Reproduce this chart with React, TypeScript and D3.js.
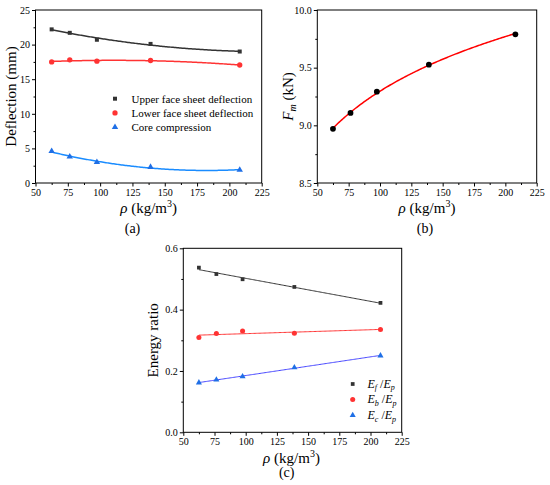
import React, { useEffect, useRef } from 'react';
import * as d3 from 'd3';

// ---------- data ----------
const density = [62.5, 76.5, 97.5, 139, 208];
const upperDeflection = [22.2, 21.7, 20.7, 20.1, 19.0];
const lowerDeflection = [17.5, 17.8, 17.6, 17.7, 17.05];
const coreCompression = [4.6, 3.8, 3.0, 2.3, 1.9];
const peakForce = [8.97, 9.107, 9.292, 9.526, 9.789];
const efRatio = [0.537, 0.516, 0.499, 0.474, 0.422];
const ebRatio = [0.309, 0.322, 0.33, 0.323, 0.335];
const ecRatio = [0.162, 0.171, 0.182, 0.211, 0.25];

const xTicks = [50, 75, 100, 125, 150, 175, 200, 225];
const yTicksA = [0, 5, 10, 15, 20, 25];
const yTicksB = [8.5, 9.0, 9.5, 10.0];
const yTicksC = [0, 0.2, 0.4, 0.6];
const legendA = ['Upper face sheet deflection', 'Lower face sheet deflection', 'Core compression'];
const legendC = [['E', 'f', 'E', 'p'], ['E', 'b', 'E', 'p'], ['E', 'c', 'E', 'p']];

const FONT = 'Liberation Serif, DejaVu Serif, serif';

// least squares polynomial fit
function polyfit(xs: number[], ys: number[], deg: number) {
  const n = deg + 1;
  const A: number[][] = Array.from({ length: n }, () => new Array(n + 1).fill(0));
  for (let r = 0; r < n; r++) {
    for (let c = 0; c < n; c++) {
      A[r][c] = d3.sum(xs, (x) => Math.pow(x, r + c));
    }
    A[r][n] = d3.sum(xs, (x, i) => ys[i] * Math.pow(x, r));
  }
  for (let i = 0; i < n; i++) {
    let p = i;
    for (let k = i + 1; k < n; k++) if (Math.abs(A[k][i]) > Math.abs(A[p][i])) p = k;
    [A[i], A[p]] = [A[p], A[i]];
    for (let k = i + 1; k < n; k++) {
      const f = A[k][i] / A[i][i];
      for (let c = i; c <= n; c++) A[k][c] -= f * A[i][c];
    }
  }
  const coef = new Array(n).fill(0);
  for (let i = n - 1; i >= 0; i--) {
    let s = A[i][n];
    for (let c = i + 1; c < n; c++) s -= A[i][c] * coef[c];
    coef[i] = s / A[i][i];
  }
  return (x: number) => coef.reduce((acc, c, i) => acc + c * Math.pow(x, i), 0);
}

function logfit(xs: number[], ys: number[]) {
  const f = polyfit(xs.map(Math.log), ys, 1);
  return (x: number) => f(Math.log(x));
}

type Panel = {
  left: number; right: number; top: number; bottom: number;
  yDomain: [number, number]; yTicks: number[]; yMinor: number[]; yFmt: (v: number) => string;
};

function drawFrame(g: any, p: Panel) {
  const x = d3.scaleLinear().domain([50, 225]).range([p.left, p.right]);
  const y = d3.scaleLinear().domain(p.yDomain).range([p.bottom, p.top]);
  const xMinor = xTicks.slice(0, -1).map((t) => t + 12.5);

  g.append('g').attr('transform', `translate(0,${p.bottom})`)
    .call(d3.axisBottom(x).tickValues(xTicks).tickSizeInner(3.5).tickSizeOuter(0).tickPadding(2.5).tickFormat(d3.format('d')));
  g.append('g').attr('transform', `translate(0,${p.bottom})`)
    .call(d3.axisBottom(x).tickValues(xMinor).tickSizeInner(2).tickSizeOuter(0).tickFormat(() => ''));
  g.append('g').attr('transform', `translate(${p.left},0)`)
    .call(d3.axisLeft(y).tickValues(p.yTicks).tickSizeInner(3.5).tickSizeOuter(0).tickPadding(2).tickFormat(p.yFmt as any));
  g.append('g').attr('transform', `translate(${p.left},0)`)
    .call(d3.axisLeft(y).tickValues(p.yMinor).tickSizeInner(2).tickSizeOuter(0).tickFormat(() => ''));
  g.selectAll('.domain').remove();
  g.selectAll('g').attr('font-family', FONT);
  g.selectAll('.tick line').attr('stroke', '#000').attr('stroke-width', 1);
  g.selectAll('.tick text').style('font-family', FONT).attr('font-size', 10).attr('fill', '#000');
  g.append('rect').attr('x', p.left).attr('y', p.top).attr('width', p.right - p.left)
    .attr('height', p.bottom - p.top).attr('fill', 'none').attr('stroke', '#000').attr('stroke-width', 1);
  return { x, y };
}

function txt(g: any) {
  return g.append('text').style('font-family', FONT).attr('fill', '#000');
}

function xTitle(g: any, cx: number, by: number) {
  const t = txt(g).attr('x', cx).attr('y', by).attr('text-anchor', 'middle').attr('font-size', 15);
  t.append('tspan').attr('font-style', 'italic').text('ρ');
  t.append('tspan').text(' (kg/m');
  t.append('tspan').attr('font-size', 10).attr('dy', -6).text('3');
  t.append('tspan').attr('dy', 6).text(')');
}

function fitLine(g: any, x: any, y: any, f: (v: number) => number, color: string, w: number) {
  const pts = d3.range(density[0], density[density.length - 1] + 0.01, 1).map((v) => [v, f(v)]);
  g.append('path').attr('d', d3.line().x((d: any) => x(d[0])).y((d: any) => y(d[1]))(pts as any))
    .attr('fill', 'none').attr('stroke', color).attr('stroke-width', w);
}

function markers(g: any, x: any, y: any, vals: number[], type: any, size: number, color: string) {
  g.selectAll(null).data(vals).enter().append('path')
    .attr('d', d3.symbol().type(type).size(size)())
    .attr('transform', (d: number, i: number) => `translate(${x(density[i])},${y(d)})`)
    .attr('fill', color);
}

export default function App() {
  const ref = useRef<SVGSVGElement>(null);
  useEffect(() => {
    const svg = d3.select(ref.current);
    svg.selectAll('*').remove();

    const black = '#333333';
    const red = '#ff3333';

    // ---------- panel (a) ----------
    const ga = svg.append('g');
    const pa: Panel = { left: 35.5, right: 261.7, top: 10, bottom: 183, yDomain: [0, 25], yTicks: yTicksA,
      yMinor: [2.5, 7.5, 12.5, 17.5, 22.5], yFmt: d3.format('d') };
    const A = drawFrame(ga, pa);
    fitLine(ga, A.x, A.y, polyfit(density, upperDeflection, 2), black, 1.5);
    fitLine(ga, A.x, A.y, polyfit(density, lowerDeflection, 2), red, 1.5);
    fitLine(ga, A.x, A.y, polyfit(density, coreCompression, 2), '#1a8cff', 1.5);
    markers(ga, A.x, A.y, upperDeflection, d3.symbolSquare, 16, black);
    markers(ga, A.x, A.y, lowerDeflection, d3.symbolCircle, 22, red);
    markers(ga, A.x, A.y, coreCompression, d3.symbolTriangle, 18, '#1f6fe6');
    const legTypes = [d3.symbolSquare, d3.symbolCircle, d3.symbolTriangle];
    const legSizes = [16, 22, 18];
    const legColors = [black, red, '#1f6fe6'];
    legendA.forEach((label, i) => {
      const yy = 98.7 + i * 14.2;
      ga.append('path').attr('d', d3.symbol().type(legTypes[i]).size(legSizes[i])())
        .attr('transform', `translate(115,${yy})`).attr('fill', legColors[i]);
      txt(ga).attr('x', 131.5).attr('y', yy + 3.8).attr('font-size', 11).text(label);
    });
    txt(ga).attr('transform', 'translate(16,96.5) rotate(-90)').attr('text-anchor', 'middle')
      .attr('font-size', 15).text('Deflection (mm)');
    xTitle(ga, 148.6, 213);
    txt(ga).attr('x', 132.5).attr('y', 233).attr('text-anchor', 'middle').attr('font-size', 14).text('(a)');

    // ---------- panel (b) ----------
    const gb = svg.append('g');
    const pb: Panel = { left: 317.3, right: 536.7, top: 10, bottom: 183, yDomain: [8.5, 10], yTicks: yTicksB,
      yMinor: [8.75, 9.25, 9.75], yFmt: d3.format('.1f') };
    const B = drawFrame(gb, pb);
    fitLine(gb, B.x, B.y, logfit(density, peakForce), '#ff0000', 1.5);
    markers(gb, B.x, B.y, peakForce, d3.symbolCircle, 26, '#000');
    const ty = txt(gb).attr('transform', 'translate(293,96.5) rotate(-90)').attr('text-anchor', 'middle')
      .attr('font-size', 15);
    ty.append('tspan').attr('font-style', 'italic').text('F');
    ty.append('tspan').attr('font-style', 'italic').attr('font-size', 10).attr('dy', 3).text('m');
    ty.append('tspan').attr('dy', -3).text(' (kN)');
    xTitle(gb, 427, 213);
    txt(gb).attr('x', 425).attr('y', 233).attr('text-anchor', 'middle').attr('font-size', 14).text('(b)');

    // ---------- panel (c) ----------
    const gc = svg.append('g');
    const pc: Panel = { left: 183.3, right: 401.7, top: 248.3, bottom: 432.3, yDomain: [0, 0.6], yTicks: yTicksC,
      yMinor: [0.1, 0.3, 0.5], yFmt: d3.format('.1f') };
    const C = drawFrame(gc, pc);
    fitLine(gc, C.x, C.y, polyfit(density, efRatio, 1), black, 1);
    fitLine(gc, C.x, C.y, polyfit(density, ebRatio, 1), red, 1);
    fitLine(gc, C.x, C.y, polyfit(density, ecRatio, 1), '#4646ff', 1);
    markers(gc, C.x, C.y, efRatio, d3.symbolSquare, 14, black);
    markers(gc, C.x, C.y, ebRatio, d3.symbolCircle, 20, red);
    markers(gc, C.x, C.y, ecRatio, d3.symbolTriangle, 16, '#1f6fe6');
    legendC.forEach((parts, i) => {
      const yy = 384 + i * 15.6;
      gc.append('path').attr('d', d3.symbol().type(legTypes[i]).size(legSizes[i] - 2)())
        .attr('transform', `translate(352.7,${yy})`).attr('fill', legColors[i]);
      const t = txt(gc).attr('x', 367.5).attr('y', yy + 3.8).attr('font-size', 12).attr('font-style', 'italic');
      t.append('tspan').text(parts[0]);
      t.append('tspan').attr('font-size', 8).attr('dy', 2.5).text(parts[1]);
      t.append('tspan').attr('dy', -2.5).attr('font-style', 'normal').text(' /');
      t.append('tspan').text(parts[2]);
      t.append('tspan').attr('font-size', 8).attr('dy', 2.5).text(parts[3]);
    });
    txt(gc).attr('transform', 'translate(158,340.3) rotate(-90)').attr('text-anchor', 'middle')
      .attr('font-size', 15).text('Energy ratio');
    xTitle(gc, 291.5, 462.5);
    txt(gc).attr('x', 286.7).attr('y', 477).attr('text-anchor', 'middle').attr('font-size', 14).text('(c)');
  }, []);

  return (
    <svg ref={ref} width={550} height={485} style={{ position: 'absolute', left: 0, top: 0, background: '#fff' }} />
  );
}
